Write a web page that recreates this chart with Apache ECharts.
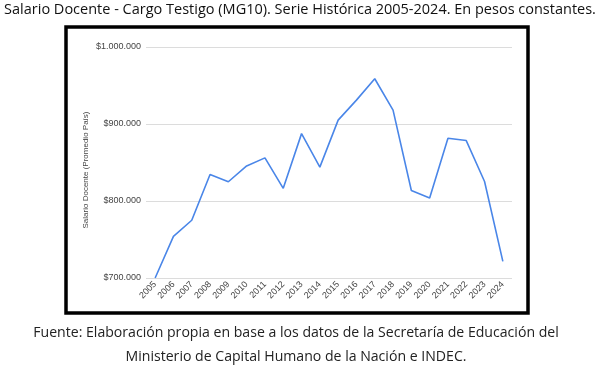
<!DOCTYPE html>
<html>
<head>
<meta charset="utf-8">
<script src="https://cdn.jsdelivr.net/npm/echarts@6/dist/echarts.min.js"></script>
<style>
html,body{margin:0;padding:0;background:#fff;}
#chart{width:600px;height:369px;}
</style>
</head>
<body>
<div id="chart"></div>
<script>
var years = ['2005','2006','2007','2008','2009','2010','2011','2012','2013','2014','2015','2016','2017','2018','2019','2020','2021','2022','2023','2024'];
var salario = [700000, 754000, 775000, 834500, 825000, 845500, 856000, 816500, 887500, 844000, 905000, 931000, 958800, 918000, 813700, 803900, 881500, 878500, 825300, 721500];
var titleText = 'Salario Docente - Cargo Testigo (MG10). Serie Histórica 2005-2024. En pesos constantes.';
var yAxisName = 'Salario Docente (Promedio País)';
var footer1 = 'Fuente: Elaboración propia en base a los datos de la Secretaría de Educación del';
var footer2 = 'Ministerio de Capital Humano de la Nación e INDEC.';

function fmt(v){
  return '$' + String(v).replace(/\B(?=(\d{3})+(?!\d))/g, '.');
}

var chart = echarts.init(document.getElementById('chart'), null, {renderer:'canvas'});
var FONT = '"Open Sans", sans-serif';
chart.setOption({
  animation: false,
  backgroundColor: '#fff',
  grid: {left: 146, right: 88, top: 47, bottom: 91, containLabel: false},
  xAxis: {
    type: 'category',
    data: years,
    boundaryGap: true,
    axisLine: {show: false},
    axisTick: {show: false},
    axisLabel: {rotate: 45, fontSize: 9, color: '#444', margin: 5, fontFamily: 'Liberation Sans, Arial, sans-serif', interval: 0}
  },
  yAxis: {
    type: 'value',
    min: 700000, max: 1000000, interval: 100000,
    axisLine: {show: false},
    axisTick: {show: false},
    axisLabel: {fontSize: 9, color: '#444', margin: 5, formatter: fmt, fontFamily: 'Liberation Sans, Arial, sans-serif'},
    splitLine: {lineStyle: {color: '#dcdcdc', width: 1}}
  },
  series: [{
    type: 'line',
    data: salario,
    symbol: 'none',
    lineStyle: {color: '#4a86e8', width: 1.6},
    itemStyle: {color: '#4a86e8'}
  }],
  graphic: [
    {type: 'rect', shape: {x: 66, y: 27, width: 462, height: 286}, style: {fill: 'none', stroke: '#000', lineWidth: 3.5}, z: 100},
    {type: 'text', x: 300, y: 10, style: {text: titleText, fontSize: 14.5, fontFamily: FONT, fill: '#111', align: 'center', verticalAlign: 'middle'}},
    {type: 'text', x: 86, y: 170, rotation: Math.PI/2, style: {text: yAxisName, fontSize: 8, fontFamily: 'Liberation Sans, Arial, sans-serif', fill: '#444', align: 'center', verticalAlign: 'middle'}},
    {type: 'text', x: 296, y: 333, style: {text: footer1, fontSize: 14.1, fontFamily: FONT, fill: '#222', align: 'center', verticalAlign: 'middle'}},
    {type: 'text', x: 296, y: 357, style: {text: footer2, fontSize: 14.1, fontFamily: FONT, fill: '#222', align: 'center', verticalAlign: 'middle'}}
  ]
});
</script>
</body>
</html>
